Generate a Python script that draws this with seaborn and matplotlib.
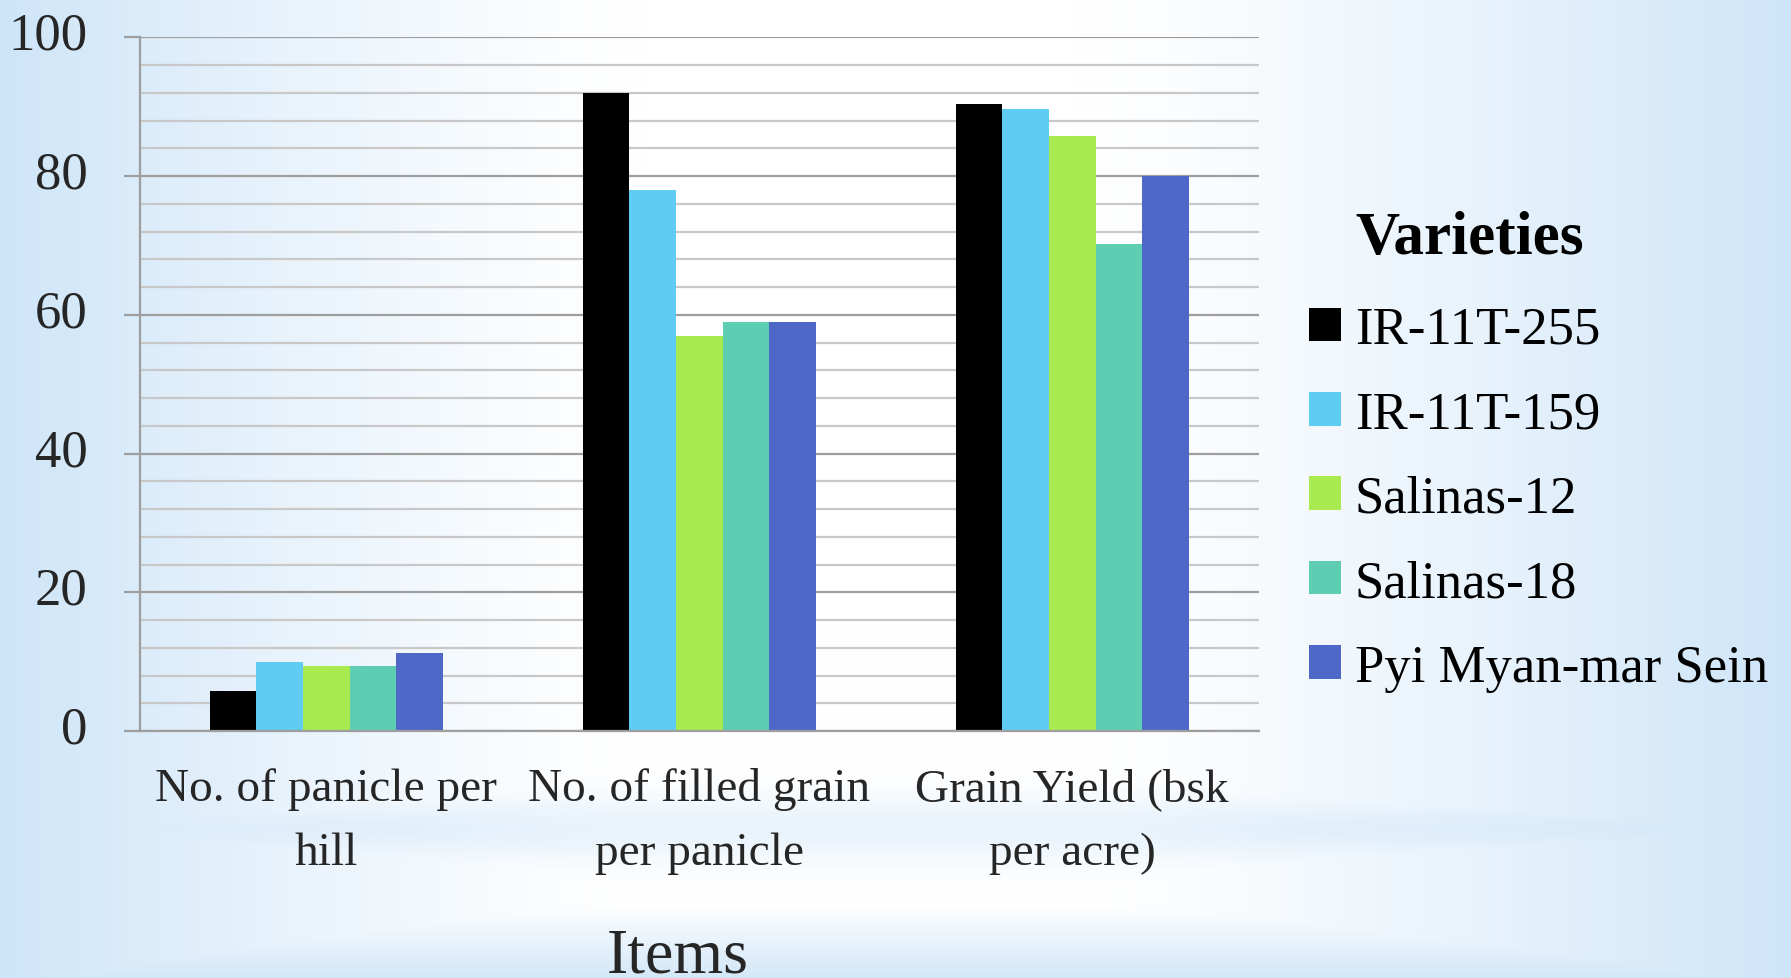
import numpy as np
import pandas as pd
import matplotlib
matplotlib.use("Agg")
import matplotlib.pyplot as plt
from matplotlib.ticker import MultipleLocator
from matplotlib.transforms import ScaledTranslation
import seaborn as sns

# ---------------- data ----------------
items = ["No. of panicle per hill", "No. of filled grain per panicle", "Grain Yield (bsk per acre)"]
item_labels = ["No. of panicle per\nhill", "No. of filled grain\nper panicle", "Grain Yield (bsk\nper acre)"]
varieties = ["IR-11T-255", "IR-11T-159", "Salinas-12", "Salinas-18", "Pyi Myan-mar Sein"]
ir_11t_255 = [5.8, 92.0, 90.4]
ir_11t_159 = [10.0, 78.0, 89.6]
salinas_12 = [9.4, 57.0, 85.7]
salinas_18 = [9.4, 59.0, 70.2]
pyi_myanmar_sein = [11.2, 59.0, 80.0]
colors = ["#000000", "#5ECCF3", "#A8EA50", "#5ECEB2", "#4F68C8"]
yticks = [0, 20, 40, 60, 80, 100]

series = [ir_11t_255, ir_11t_159, salinas_12, salinas_18, pyi_myanmar_sein]
rows = []
for v, vals in zip(varieties, series):
    for it, val in zip(items, vals):
        rows.append({"Item": it, "Value": val, "Variety": v})
df = pd.DataFrame(rows)

# ---------------- style ----------------
sns.set_theme(style="white")
plt.rcParams["font.family"] = ["Liberation Serif", "DejaVu Serif"]
plt.rcParams["text.color"] = "black"

W, H, DPI = 1791, 979, 100
fig = plt.figure(figsize=(W / DPI, H / DPI), dpi=DPI)

# background gradient (decoration)
xs = np.linspace(0, 1, W)[None, :]
ys = np.linspace(0, 1, H)[:, None]
left = np.clip(1 - xs / 0.36, 0, 1) ** 1.3
right = np.clip((xs - 0.60) / 0.40, 0, 1) ** 1.3
side = np.maximum(left, right)
band_w = 0.55 + 0.45 * np.maximum(np.clip(1 - xs / 0.35, 0, 1), np.clip((xs - 0.62) / 0.3, 0, 1))
band = np.exp(-((ys * H - 830) / 34) ** 2) * band_w * 0.8
bottom = np.clip((ys * H - 905) / 74, 0, 1) * 0.9
f = np.clip(np.maximum(np.maximum(side * np.ones_like(ys), band), bottom), 0, 1)
white = np.array([255, 255, 255]) / 255.0
blue = np.array([206, 229, 248]) / 255.0
bg = white[None, None, :] * (1 - f[..., None]) + blue[None, None, :] * f[..., None]
fig.figimage(bg, 0, 0, zorder=-10, origin="upper")

ax_left, ax_right = 139.7, 1258.7
ax_top, ax_bot = 38.3, 732.0
ax = fig.add_axes([ax_left / W, 1 - ax_bot / H, (ax_right - ax_left) / W, (ax_bot - ax_top) / H])
ax.set_facecolor("none")

sns.barplot(data=df, x="Item", y="Value", hue="Variety", order=items, hue_order=varieties,
            palette=colors, width=0.625, saturation=1, linewidth=0, ax=ax)

ax.set_ylim(0, 100)
ax.set_xlim(-0.5, 2.5)
ax.yaxis.set_major_locator(MultipleLocator(20))
ax.yaxis.set_minor_locator(MultipleLocator(4))
ax.set_yticks(yticks)
ax.set_yticklabels([str(t) for t in yticks], fontsize=38)
ax.set_xticks(range(len(items)))
ax.set_xticklabels(item_labels, fontsize=34, linespacing=1.66)

ax.grid(True, which="minor", axis="y", color="#C8C8C8", linewidth=1.6)
ax.grid(True, which="major", axis="y", color="#9E9E9E", linewidth=1.6)
ax.set_axisbelow(True)
for s in ["top", "right"]:
    ax.spines[s].set_visible(False)
for s in ["left", "bottom"]:
    ax.spines[s].set_color("#9E9E9E")
    ax.spines[s].set_linewidth(1.6)
ax.tick_params(axis="y", which="major", length=11.5, width=1.6, color="#9E9E9E", pad=26, left=True)
ax.tick_params(axis="y", which="minor", length=0)
ax.tick_params(axis="x", length=0, pad=26)

# lift y tick labels slightly (after tick_params, which resets transforms)
up = ScaledTranslation(0, 7 / DPI, fig.dpi_scale_trans)
for lab in ax.get_yticklabels():
    lab.set_transform(lab.get_transform() + up)

ax.set_ylabel("")
ax.set_xlabel("Items", fontsize=46, va="baseline")
ax.xaxis.set_label_coords((678 - ax_left) / (ax_right - ax_left), (6 - (H - ax_bot)) / (ax_bot - ax_top))

# legend
leg = ax.get_legend()
handles = leg.legend_handles
leg.remove()
fig.legend(handles, varieties, loc="upper left",
           bbox_to_anchor=(1309 / W, 1 - 307 / H), bbox_transform=fig.transFigure,
           frameon=False, fontsize=38, handlelength=0.6, handleheight=0.6,
           handletextpad=0.27, labelspacing=0.69, borderpad=0, borderaxespad=0)
fig.text(1355 / W, 1 - 239 / H, "Varieties", fontsize=44, fontweight="bold", ha="left", va="center")

fig.savefig("out.png", dpi=DPI)
